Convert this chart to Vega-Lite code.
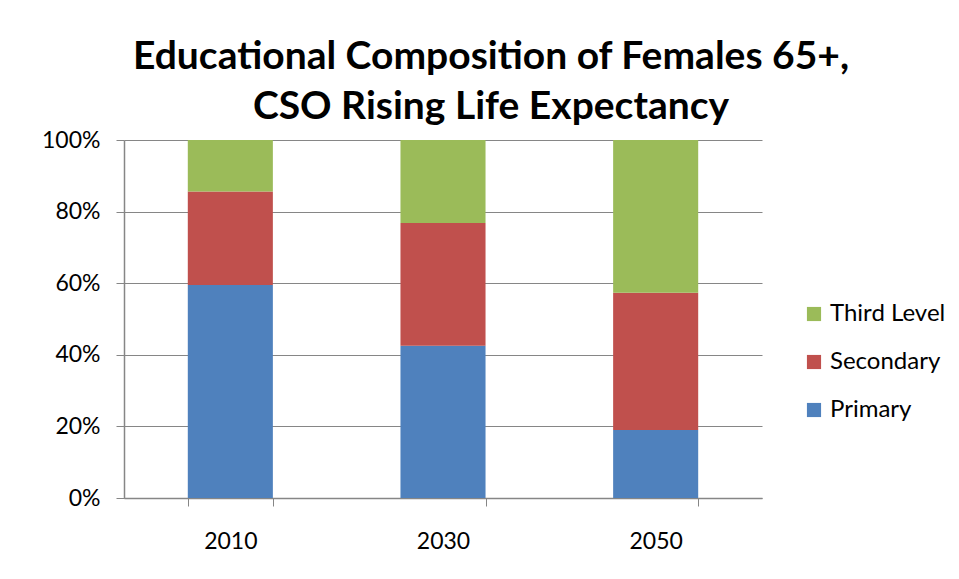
{
  "$schema": "https://vega.github.io/schema/vega-lite/v6.json",
  "autosize": {"type": "none"},
  "width": 638,
  "height": 358,
  "padding": {"left": 124, "top": 140, "right": 197, "bottom": 81},
  "background": "white",
  "title": {
    "text": ["Educational Composition of Females 65+,", "CSO Rising Life Expectancy"],
    "font": "Lato",
    "fontSize": 39,
    "fontWeight": "bold",
    "color": "black",
    "lineHeight": 50,
    "anchor": "middle",
    "frame": "group",
    "dx": 48,
    "offset": 2
  },
  "data": {
    "values": [
      {"year": "2010", "level": "Primary", "share": 0.595},
      {"year": "2010", "level": "Secondary", "share": 0.261},
      {"year": "2010", "level": "Third Level", "share": 0.144},
      {"year": "2030", "level": "Primary", "share": 0.425},
      {"year": "2030", "level": "Secondary", "share": 0.343},
      {"year": "2030", "level": "Third Level", "share": 0.232},
      {"year": "2050", "level": "Primary", "share": 0.19},
      {"year": "2050", "level": "Secondary", "share": 0.383},
      {"year": "2050", "level": "Third Level", "share": 0.427}
    ]
  },
  "mark": {"type": "bar"},
  "encoding": {
    "x": {
      "field": "year",
      "type": "nominal",
      "scale": {"paddingInner": 0.6, "paddingOuter": 0.3},
      "axis": {
        "title": null,
        "labelAngle": 0,
        "labelFont": "Lato",
        "labelFontSize": 23,
        "labelColor": "black",
        "labelPadding": 24,
        "tickBand": "extent",
        "tickSize": 8,
        "tickColor": "#868686",
        "domainColor": "#868686",
        "domainWidth": 1.5,
        "grid": false
      }
    },
    "y": {
      "field": "share",
      "type": "quantitative",
      "stack": "zero",
      "scale": {"domain": [0, 1], "nice": false},
      "axis": {
        "title": null,
        "values": [0, 0.2, 0.4, 0.6, 0.8, 1],
        "format": ".0%",
        "labelFont": "Lato",
        "labelFontSize": 23,
        "labelColor": "black",
        "labelPadding": 16,
        "tickSize": 8,
        "tickColor": "#868686",
        "domainColor": "#868686",
        "domainWidth": 1.5,
        "grid": true,
        "gridColor": "#868686",
        "gridWidth": 1
      }
    },
    "color": {
      "field": "level",
      "type": "nominal",
      "scale": {
        "domain": ["Third Level", "Secondary", "Primary"],
        "range": ["#9BBB59", "#C0504D", "#4F81BD"]
      },
      "legend": {
        "title": null,
        "orient": "none",
        "legendX": 678,
        "legendY": 162,
        "padding": 0,
        "symbolType": "square",
        "symbolSize": 200,
        "symbolStrokeWidth": 0,
        "labelFont": "Lato",
        "labelFontSize": 24,
        "labelColor": "black",
        "labelOffset": 4,
        "rowPadding": 24
      }
    },
    "order": {"field": "level", "sort": "ascending"}
  },
  "config": {"view": {"stroke": null}}
}
